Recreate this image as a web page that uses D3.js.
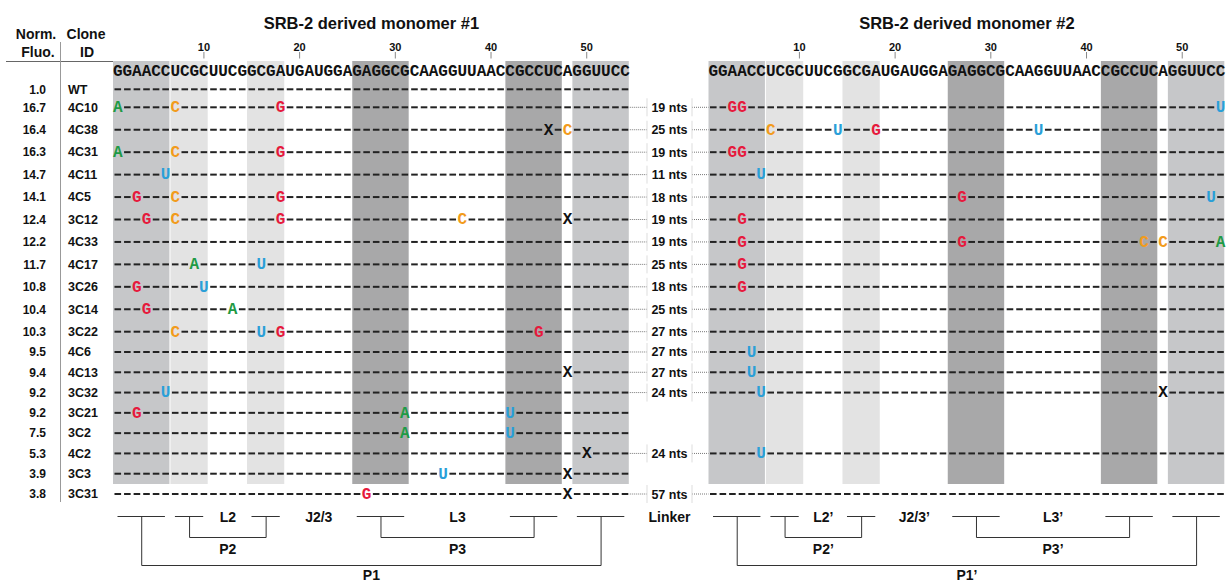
<!DOCTYPE html>
<html><head><meta charset="utf-8">
<script src="https://cdn.jsdelivr.net/npm/d3@7"></script>
<style>body{margin:0;background:#fff}svg{display:block}</style>
</head><body>
<svg id="c" width="1226" height="583"></svg>
<script>
// ---------- DATA ----------
const sequence = "GGAACCUCGCUUCGGCGAUGAUGGAGAGGCGCAAGGUUAACCGCCUCAGGUUCC";
const tickLabels = [10, 20, 30, 40, 50];
const monomerTitles = ["SRB-2 derived monomer #1", "SRB-2 derived monomer #2"];
const clones = ["WT","4C10","4C38","4C31","4C11","4C5","3C12","4C33","4C17","3C26","3C14","3C22","4C6","4C13","3C32","3C21","3C2","4C2","3C3","3C31"];
const normFluo = ["1.0","16.7","16.4","16.3","14.7","14.1","12.4","12.2","11.7","10.8","10.4","10.3","9.5","9.4","9.2","9.2","7.5","5.3","3.9","3.8"];
const linkerNts = [null,19,25,19,11,18,19,19,25,18,25,27,27,27,24,null,null,24,null,57];
// [position, new nucleotide] ; X = deletion
const monomer1Mutations = [
  [],
  [[1,"A"],[7,"C"],[18,"G"]],
  [[46,"X"],[48,"C"]],
  [[1,"A"],[7,"C"],[18,"G"]],
  [[6,"U"]],
  [[3,"G"],[7,"C"],[18,"G"]],
  [[4,"G"],[7,"C"],[18,"G"],[37,"C"],[48,"X"]],
  [],
  [[9,"A"],[16,"U"]],
  [[3,"G"],[10,"U"]],
  [[4,"G"],[13,"A"]],
  [[7,"C"],[16,"U"],[18,"G"],[45,"G"]],
  [],
  [[48,"X"]],
  [[6,"U"]],
  [[3,"G"],[31,"A"],[42,"U"]],
  [[31,"A"],[42,"U"]],
  [[50,"X"]],
  [[35,"U"],[48,"X"]],
  [[27,"G"],[48,"X"]]
];
const monomer2Mutations = [
  null,
  [[3,"G"],[4,"G"],[54,"U"]],
  [[7,"C"],[14,"U"],[18,"G"],[35,"U"]],
  [[3,"G"],[4,"G"]],
  [[6,"U"]],
  [[27,"G"],[53,"U"]],
  [[4,"G"]],
  [[4,"G"],[27,"G"],[46,"C"],[48,"C"],[54,"A"]],
  [[4,"G"]],
  [[4,"G"]],
  [],
  [],
  [[5,"U"]],
  [[5,"U"]],
  [[6,"U"],[48,"X"]],
  null,
  null,
  [[6,"U"]],
  null,
  []
];
// structural regions (nucleotide ranges)
const stemRegions = [
  {name:"P1a", start:1, end:6, kind:"P1"},
  {name:"P2a", start:7, end:10, kind:"P2"},
  {name:"P2b", start:15, end:18, kind:"P2"},
  {name:"P3a", start:26, end:31, kind:"P3"},
  {name:"P3b", start:42, end:47, kind:"P3"},
  {name:"P1b", start:49, end:54, kind:"P1"}
];
const loopLabels = [{label:"L2", after:10, before:15},{label:"J2/3", after:18, before:26},{label:"L3", after:31, before:42}];
const pairLabels = [{label:"P2", a:"P2a", b:"P2b", level:1},{label:"P3", a:"P3a", b:"P3b", level:1},{label:"P1", a:"P1a", b:"P1b", level:2}];

// ---------- STYLE ----------
const regionFill = {P1:"#c6c7c9", P2:"#e3e3e3", P3:"#a8a8a9"};
const nucColor = {A:"#1f9a45", C:"#f29b1c", G:"#e6193c", U:"#2a9fd8", X:"#111"};
const sans = "'Liberation Sans', Arial, sans-serif";
const mono = "'Liberation Mono', 'Courier New', monospace";

const svg = d3.select("#c");
const positions = d3.range(1, sequence.length + 1);
const xs = [
  d3.scaleBand().domain(positions).range([113, 629.8]).padding(0),
  d3.scaleBand().domain(positions).range([708.5, 1225.3]).padding(0)
];
const bw = xs[0].bandwidth();
const cx = (s, p) => s(p) + bw / 2;
const y = d3.scaleLinear().domain([0, 1, 11, 19]).range([89.3, 107.3, 331.7, 494]);

const blockTop = 61, blockBottom = 484;

// headers
const hdr = svg.append("g").attr("font-family", sans).attr("font-weight", "bold").attr("font-size", 14).attr("fill", "#111");
hdr.append("text").attr("x", 36).attr("y", 39).attr("text-anchor", "middle").text("Norm.");
hdr.append("text").attr("x", 38).attr("y", 57).attr("text-anchor", "middle").text("Fluo.");
hdr.append("text").attr("x", 86).attr("y", 39).attr("text-anchor", "middle").text("Clone");
hdr.append("text").attr("x", 87).attr("y", 57).attr("text-anchor", "middle").text("ID");
svg.append("line").attr("x1", 6).attr("x2", 113).attr("y1", 61.5).attr("y2", 61.5).attr("stroke", "#666").attr("stroke-width", 1);
svg.append("line").attr("x1", 60.5).attr("x2", 60.5).attr("y1", 42).attr("y2", 502).attr("stroke", "#999").attr("stroke-width", 1);

// row labels
const rows = svg.append("g").attr("font-family", sans).attr("font-weight", "bold").attr("font-size", 12).attr("fill", "#111");
rows.selectAll("text.f").data(normFluo).join("text").attr("class", "f")
  .attr("x", 46).attr("y", (d, i) => y(i) + 4.3).attr("text-anchor", "end").text(d => d);
rows.selectAll("text.id").data(clones).join("text").attr("class", "id")
  .attr("x", 68).attr("y", (d, i) => y(i) + 4.3).attr("font-size", 12.5).text(d => d);

const mutSets = [monomer1Mutations, monomer2Mutations];

xs.forEach((x, m) => {
  const g = svg.append("g");
  // shaded regions
  g.selectAll("rect").data(stemRegions).join("rect")
    .attr("x", d => x(d.start)).attr("width", d => x(d.end) + bw - x(d.start) - 1)
    .attr("y", blockTop).attr("height", blockBottom - blockTop)
    .attr("fill", d => regionFill[d.kind]);
  // title
  const [r0, r1] = x.range();
  g.append("text").attr("x", (r0 + r1) / 2).attr("y", 29).attr("text-anchor", "middle")
    .attr("font-family", sans).attr("font-weight", "bold").attr("font-size", 16.5).attr("fill", "#111")
    .text(monomerTitles[m]);
  // ticks
  const tk = g.selectAll("g.tick").data(tickLabels).join("g").attr("class", "tick")
    .attr("transform", d => `translate(${cx(x, d)},0)`);
  tk.append("line").attr("y1", 52).attr("y2", 58.5).attr("stroke", "#888").attr("stroke-width", 1);
  tk.append("text").attr("y", 50.5).attr("text-anchor", "middle").attr("font-family", sans)
    .attr("font-weight", "bold").attr("font-size", 11).attr("fill", "#111").text(d => d);
  // sequence
  g.selectAll("text.seq").data(sequence.split("")).join("text").attr("class", "seq")
    .attr("x", (d, i) => cx(x, i + 1)).attr("y", 75.5).attr("text-anchor", "middle")
    .attr("font-family", mono).attr("font-weight", "bold").attr("font-size", 16).attr("fill", "#111").text(d => d);
  // rows
  mutSets[m].forEach((muts, ri) => {
    if (muts === null) return;
    const mm = new Map(muts.map(d => [d[0], d[1]]));
    const yy = y(ri);
    const rg = g.append("g");
    rg.selectAll("line").data(positions.filter(p => !mm.has(p))).join("line")
      .attr("x1", p => cx(x, p) - 3.3).attr("x2", p => cx(x, p) + 3.3)
      .attr("y1", yy).attr("y2", yy).attr("stroke", "#222").attr("stroke-width", 2);
    rg.selectAll("text").data(muts).join("text")
      .attr("x", d => cx(x, d[0])).attr("y", yy + 4.8).attr("text-anchor", "middle")
      .attr("font-family", mono).attr("font-weight", "bold").attr("font-size", 16)
      .attr("fill", d => nucColor[d[1]]).text(d => d[1]);
  });
  // bottom structure
  const regionByName = Object.fromEntries(stemRegions.map(d => [d.name, d]));
  const regMid = r => (x(r.start) + x(r.end) + bw) / 2;
  const segY = 516.5;
  const bg = g.append("g").attr("stroke", "#333").attr("stroke-width", 1).attr("fill", "none");
  bg.selectAll("line.seg").data(stemRegions).join("line").attr("class", "seg")
    .attr("x1", d => x(d.start) + 4.5).attr("x2", d => x(d.end) + bw - 5.5)
    .attr("y1", segY).attr("y2", segY);
  const levelY = {1: 537.5, 2: 565.5};
  bg.selectAll("path").data(pairLabels).join("path")
    .attr("d", d => {
      const a = regMid(regionByName[d.a]), b = regMid(regionByName[d.b]);
      return `M${a},${segY}V${levelY[d.level]}H${b}V${segY}`;
    });
  const prime = m === 1 ? "\u2019" : "";
  const lt = g.append("g").attr("font-family", sans).attr("font-weight", "bold").attr("font-size", 14)
    .attr("fill", "#111").attr("text-anchor", "middle");
  lt.selectAll("text.loop").data(loopLabels).join("text").attr("class", "loop")
    .attr("x", d => (x(d.after) + bw + x(d.before)) / 2).attr("y", 522).text(d => d.label + prime);
  lt.selectAll("text.pair").data(pairLabels).join("text").attr("class", "pair")
    .attr("x", d => (regMid(regionByName[d.a]) + regMid(regionByName[d.b])) / 2)
    .attr("y", d => d.level === 1 ? 554 : 580).text(d => d.label + prime);
});

// linker column
const linkX0 = xs[0].range()[1], linkX1 = xs[1].range()[0];
const boxL = 647, boxR = 692, boxC = (boxL + boxR) / 2;
const lk = svg.append("g");
linkerNts.forEach((n, i) => {
  if (n === null) return;
  const yy = y(i);
  lk.append("line").attr("x1", linkX0).attr("x2", boxL).attr("y1", yy).attr("y2", yy)
    .attr("stroke", "#777").attr("stroke-width", 1).attr("stroke-dasharray", "1,1");
  lk.append("line").attr("x1", boxR).attr("x2", linkX1).attr("y1", yy).attr("y2", yy)
    .attr("stroke", "#777").attr("stroke-width", 1).attr("stroke-dasharray", "1,1");
  [boxL, boxR].forEach(bx => lk.append("line").attr("x1", bx).attr("x2", bx).attr("y1", yy - 9).attr("y2", yy + 9)
    .attr("stroke", "#ddd").attr("stroke-width", 1));
  lk.append("text").attr("x", boxC).attr("y", yy + 4.5).attr("text-anchor", "middle")
    .attr("font-family", sans).attr("font-weight", "bold").attr("font-size", 12.5).attr("fill", "#111")
    .text(n + " nts");
});
svg.append("text").attr("x", boxC).attr("y", 522).attr("text-anchor", "middle")
  .attr("font-family", sans).attr("font-weight", "bold").attr("font-size", 14).attr("fill", "#111").text("Linker");
</script>
</body></html>
